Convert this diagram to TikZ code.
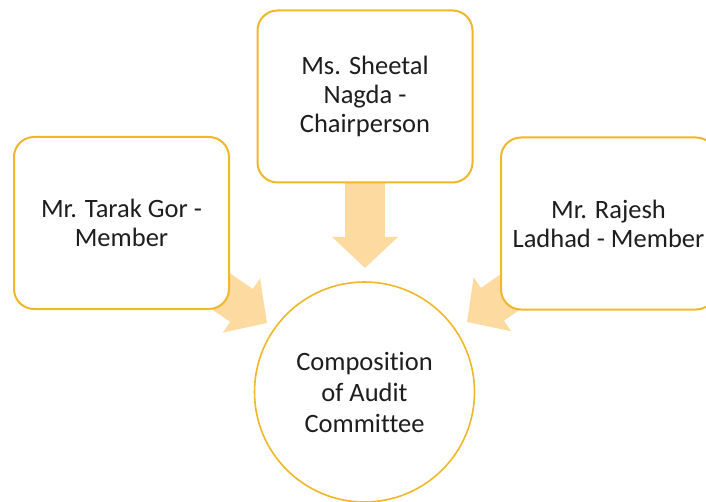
\documentclass[tikz,border=0pt]{standalone}
\usepackage{fontspec}
\setmainfont[Ligatures={NoCommon}]{Carlito}
\usetikzlibrary{arrows.meta,backgrounds}
\definecolor{gold}{RGB}{240,184,40}
\definecolor{peach}{RGB}{253,218,160}
\definecolor{ink}{RGB}{30,30,30}
\tikzset{
  member/.style={draw=gold, line width=2pt, fill=white, rounded corners=20pt,
    minimum width=215pt, minimum height=172pt, inner sep=0pt, align=center,
    text=ink, font=\fontsize{26.5}{29}\selectfont},
  hub/.style={draw=gold, line width=1.6pt, fill=white, circle, minimum size=220pt,
    inner sep=0pt, align=center, text=ink, font=\fontsize{26.5}{31}\selectfont},
  fatarrow/.style={draw=peach, line width=40pt,
    -{Triangle[width=64pt,length=31pt]}}
}
\begin{document}
\begin{tikzpicture}[x=1pt,y=-1pt]
\useasboundingbox (0,0) rectangle (706,502);
\clip (0,0) rectangle (706,502);
\node[member] (left) at (121.5,223) {Mr. Tarak Gor -\\Member};
\node[member] (top) at (365,96.5) {Ms. Sheetal\\Nagda -\\Chairperson};
\node[member] (right) at (608.5,223.5) {Mr. Rajesh\\Ladhad - Member};
\node[hub] (circ) at (364.5,392) {Composition\\of Audit\\Committee};
\coordinate (dtip) at (365,268);
\coordinate (ltip) at (267,323);
\coordinate (rtip) at (467,322);
\begin{pgfonlayer}{background}
\draw[fatarrow] (top.center) -- (dtip);
\draw[fatarrow] (left.center) -- (ltip);
\draw[fatarrow] (right.center) -- (rtip);
\end{pgfonlayer}
\end{tikzpicture}
\end{document}
